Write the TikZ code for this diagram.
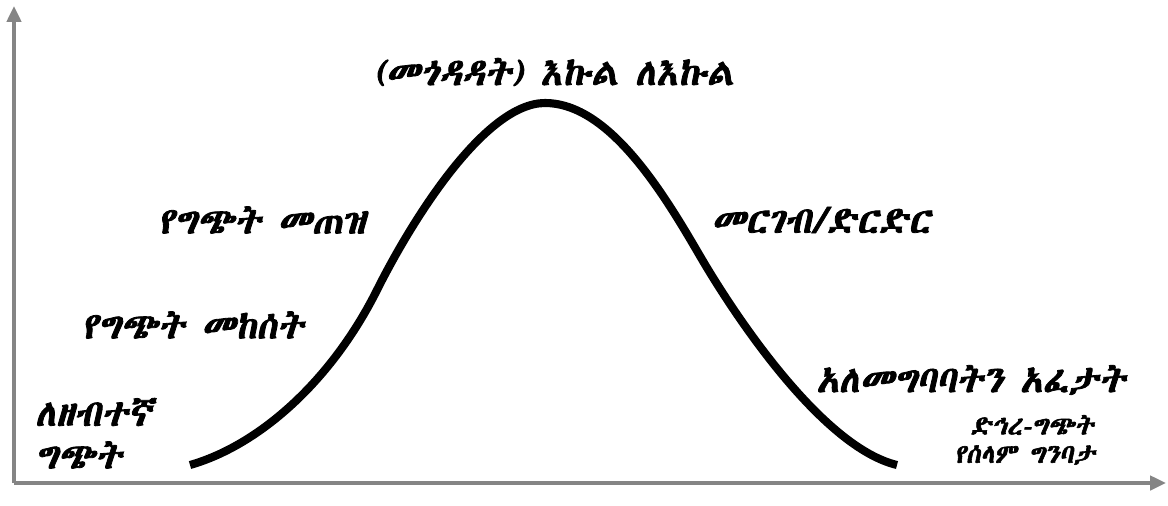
\documentclass[tikz,border=0pt]{standalone}
\usepackage{fontspec}
\usepackage{tikz}
\usetikzlibrary{positioning, arrows.meta}
\IfFontExistsTF{Abyssinica SIL}
  {\newfontfamily\ethfont[FakeSlant=0.18, FakeBold=2.2]{Abyssinica SIL}}
  {\IfFontExistsTF{FreeSerif}
    {\newfontfamily\ethfont[FakeSlant=0.18, FakeBold=2.2]{FreeSerif}}
    {\IfFontExistsTF{FreeSans}
      {\newfontfamily\ethfont[FakeSlant=0.18, FakeBold=2.2]{FreeSans}}
      {\newfontfamily\ethfont[FakeSlant=0.18]{DejaVu Sans}}}}
\definecolor{axisgray}{HTML}{858585}
\tikzset{
  axis/.style={draw=axisgray, line width=2.2pt, -{Triangle[length=9pt,width=8pt]}},
  curve/.style={line width=4.6pt, line cap=butt},
  lbl/.style={font=\ethfont\fontsize{21}{24}\selectfont, inner sep=0pt},
  smalllbl/.style={font=\ethfont\fontsize{15}{17}\selectfont, inner sep=0pt}
}
\begin{document}
\begin{tikzpicture}[x=0.02cm, y=-0.02cm]
    \useasboundingbox (0,0) rectangle (1168,505);

    % Axes
    \coordinate (origin) at (14,483);
    \coordinate (ytop) at (14,6);
    \coordinate (xend) at (1166,483);
    \draw[axis] (origin) -- (ytop);
    \draw[axis] (origin) -- (xend);

    % Conflict curve
    \coordinate (start) at (190,465);
    \coordinate (riseinfl) at (377,290);
    \coordinate (top) at (545,103);
    \coordinate (fallinfl) at (700,256);
    \coordinate (finish) at (897,465);
    \draw[curve] (start)
        .. controls (260,445) and (332,380) .. (riseinfl)
        .. controls (412,220) and (485,103) .. (top)
        .. controls (610,103) and (665,196) .. (fallinfl)
        .. controls (735,316) and (822,447) .. (finish);

    % Labels
    \node[lbl] (peak) at (554,72) {(መጎዳዳት) እኩል ለእኩል};
    \node[lbl] (escalation) at (262,220) {የግጭት መጠዝ};
    \node[lbl] (onset) at (193,325) {የግጭት መከሰት};
    \node[lbl, anchor=west] (latent) at (35,412) {ለዘብተኛ};
    \node[lbl, anchor=west] (latent2) at (35,455) {ግጭት};
    \node[lbl] (deesc) at (821,220) {መርገብ/ድርድር};
    \node[lbl] (resolution) at (971,380) {አለመግባባትን አፈታት};
    \node[smalllbl] (post) at (1032,425) {ድኅረ-ግጭት};
    \node[smalllbl] (post2) at (1025,455) {የሰላም ግንባታ};
\end{tikzpicture}
\end{document}
